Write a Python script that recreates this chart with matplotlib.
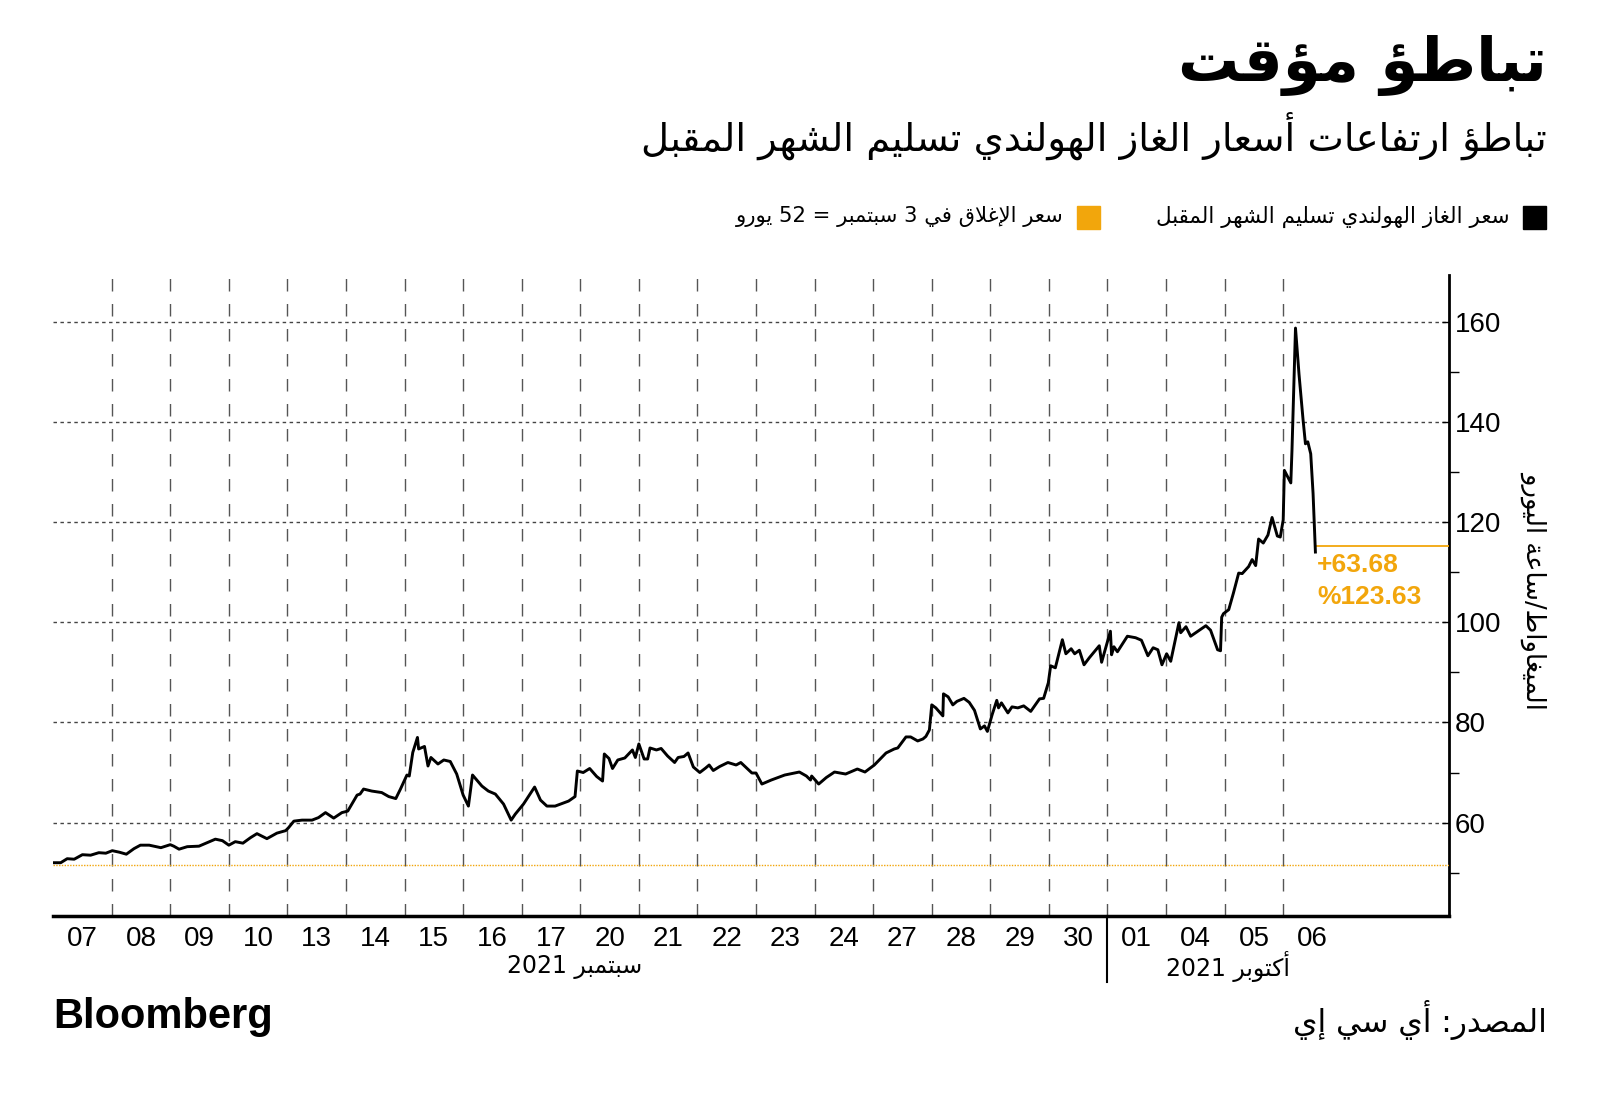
import re
import matplotlib
matplotlib.use('Agg')
import matplotlib.pyplot as plt
import matplotlib.transforms as mtransforms
from matplotlib.patches import Rectangle
import numpy as np

# ---- data ----
# x = position in trading days from the start of 07 Sep, y = EUR/MWh
t = [0.00, 0.13, 0.24, 0.36, 0.50, 0.64, 0.78, 0.90, 1.01, 1.13, 1.25, 1.38, 1.49, 1.64, 1.84,
     2.00, 2.06, 2.15, 2.29, 2.49, 2.63, 2.77, 2.89, 3.00, 3.11, 3.24, 3.37, 3.48, 3.65, 3.82,
     3.97, 4.02, 4.11, 4.25, 4.42, 4.53, 4.65, 4.79, 4.93, 5.03, 5.19, 5.24, 5.30, 5.44, 5.61,
     5.73, 5.85, 5.93, 6.04, 6.08, 6.14, 6.22, 6.24, 6.34, 6.40, 6.45, 6.57, 6.67, 6.78, 6.89,
     7.00, 7.09, 7.16, 7.32, 7.43, 7.55, 7.69, 7.82, 7.89, 8.03, 8.22, 8.32, 8.43, 8.57, 8.80,
     8.91, 8.95, 9.05, 9.16, 9.28, 9.38, 9.41, 9.49, 9.55, 9.64, 9.76, 9.89, 9.94, 10.00, 10.09,
     10.15, 10.19, 10.30, 10.38, 10.49, 10.61, 10.67, 10.77, 10.84, 10.93, 11.04, 11.14, 11.20,
     11.27, 11.38, 11.52, 11.66, 11.74, 11.84, 11.93, 12.00, 12.10, 12.26, 12.49, 12.74, 12.86,
     12.93, 12.95, 13.07, 13.20, 13.34, 13.53, 13.73, 13.86, 14.02, 14.22, 14.36, 14.42, 14.56,
     14.64, 14.76, 14.85, 14.90, 14.96, 15.00, 15.07, 15.19, 15.20, 15.28, 15.36, 15.43, 15.55,
     15.64, 15.73, 15.83, 15.90, 15.95, 16.03, 16.11, 16.14, 16.19, 16.30, 16.37, 16.47, 16.57,
     16.69, 16.84, 16.91, 16.99, 17.03, 17.11, 17.23, 17.29, 17.38, 17.44, 17.52, 17.60, 17.69,
     17.86, 17.90, 18.05, 18.07, 18.11, 18.17, 18.34, 18.48, 18.58, 18.69, 18.78, 18.86, 18.93,
     19.01, 19.08, 19.22, 19.25, 19.34, 19.42, 19.68, 19.76, 19.88, 19.93, 19.95, 19.98, 20.07,
     20.15, 20.24, 20.30, 20.41, 20.47, 20.53, 20.58, 20.66, 20.74, 20.81, 20.90, 20.95, 21.00,
     21.02, 21.13, 21.15, 21.21, 21.27, 21.34, 21.38, 21.42, 21.47, 21.51, 21.55]
price = [52.0, 52.0, 52.8, 52.7, 53.6, 53.5, 54.0, 53.9, 54.4, 54.1, 53.7, 54.8, 55.5, 55.5, 55.0,
         55.6, 55.3, 54.7, 55.2, 55.3, 56.0, 56.7, 56.4, 55.5, 56.2, 55.9, 57.0, 57.8, 56.8, 57.9,
         58.4, 59.0, 60.3, 60.5, 60.5, 61.0, 62.0, 60.9, 62.0, 62.3, 65.5, 65.7, 66.7, 66.3, 66.0,
         65.2, 64.8, 66.7, 69.5, 69.3, 74.0, 77.0, 74.7, 75.2, 71.3, 73.0, 71.7, 72.5, 72.2, 69.7,
         65.5, 63.3, 69.5, 67.3, 66.3, 65.7, 63.7, 60.5, 61.7, 63.7, 67.1, 64.5, 63.3, 63.3, 64.3,
         65.2, 70.3, 70.0, 70.8, 69.2, 68.3, 73.7, 72.8, 70.8, 72.5, 72.9, 74.5, 73.0, 75.7, 72.7,
         72.7, 74.9, 74.5, 74.8, 73.3, 72.0, 73.0, 73.2, 73.9, 71.1, 70.0, 70.9, 71.5,
         70.4, 71.2, 72.0, 71.5, 72.0, 70.9, 69.9, 69.9, 67.7, 68.5, 69.5, 70.1, 69.3,
         68.5, 69.3, 67.7, 69.0, 70.1, 69.7, 70.7, 70.1, 71.5, 73.9, 74.7, 74.9, 77.1,
         77.1, 76.3, 76.7, 77.2, 78.5, 83.5, 82.9, 81.3, 85.7, 85.1, 83.5, 84.2, 84.8,
         84.0, 82.4, 78.7, 79.3, 78.2, 81.5, 84.4, 82.9, 83.9, 81.9, 83.1, 82.9, 83.3,
         82.2, 84.7, 84.8, 87.9, 91.3, 90.9, 96.5, 93.7, 94.7, 93.7, 94.4, 91.5, 92.9,
         95.3, 92.0, 98.2, 93.5, 95.1, 94.1, 97.2, 96.9, 96.4, 93.3, 94.9, 94.5, 91.5,
         93.7, 92.2, 99.9, 97.9, 99.1, 97.2, 99.3, 98.4, 94.5, 94.3, 101.0, 101.7, 102.5,
         105.8, 109.8, 109.7, 111.1, 112.5, 111.3, 116.6, 115.8, 117.4, 120.9, 117.2, 117.0, 120.4,
         130.3, 127.8, 134.3, 158.7, 149.5, 140.3, 135.6, 136.0, 133.6, 125.7, 114.0]

base_close = 51.51   # close on 3 Sep
change = 63.68
change_pct = 123.63
day_labels = ['07', '08', '09', '10', '13', '14', '15', '16', '17', '20', '21', '22', '23', '24',
              '27', '28', '29', '30', '01', '04', '05', '06']

ORANGE = '#F2A60C'

# ---- minimal arabic shaping (presentation forms + visual order) ----
FORMS = {
    'ا': (0xFE8D, 0xFE8E, None, None), 'أ': (0xFE83, 0xFE84, None, None),
    'إ': (0xFE87, 0xFE88, None, None), 'آ': (0xFE81, 0xFE82, None, None),
    'ؤ': (0xFE85, 0xFE86, None, None), 'ب': (0xFE8F, 0xFE90, 0xFE91, 0xFE92),
    'ة': (0xFE93, 0xFE94, None, None), 'ت': (0xFE95, 0xFE96, 0xFE97, 0xFE98),
    'د': (0xFEA9, 0xFEAA, None, None), 'ر': (0xFEAD, 0xFEAE, None, None),
    'ز': (0xFEAF, 0xFEB0, None, None), 'س': (0xFEB1, 0xFEB2, 0xFEB3, 0xFEB4),
    'ش': (0xFEB5, 0xFEB6, 0xFEB7, 0xFEB8), 'ص': (0xFEB9, 0xFEBA, 0xFEBB, 0xFEBC),
    'ط': (0xFEC1, 0xFEC2, 0xFEC3, 0xFEC4), 'ع': (0xFEC9, 0xFECA, 0xFECB, 0xFECC),
    'غ': (0xFECD, 0xFECE, 0xFECF, 0xFED0), 'ف': (0xFED1, 0xFED2, 0xFED3, 0xFED4),
    'ق': (0xFED5, 0xFED6, 0xFED7, 0xFED8), 'ك': (0xFED9, 0xFEDA, 0xFEDB, 0xFEDC),
    'ل': (0xFEDD, 0xFEDE, 0xFEDF, 0xFEE0), 'م': (0xFEE1, 0xFEE2, 0xFEE3, 0xFEE4),
    'ن': (0xFEE5, 0xFEE6, 0xFEE7, 0xFEE8), 'ه': (0xFEE9, 0xFEEA, 0xFEEB, 0xFEEC),
    'و': (0xFEED, 0xFEEE, None, None), 'ي': (0xFEF1, 0xFEF2, 0xFEF3, 0xFEF4),
}
LAM_ALEF = {'ا': (0xFEFB, 0xFEFC), 'أ': (0xFEF7, 0xFEF8), 'إ': (0xFEF9, 0xFEFA), 'آ': (0xFEF5, 0xFEF6)}


def ar(s):
    res = []
    i = 0
    while i < len(s):
        c = s[i]
        if c in FORMS:
            prev = s[i - 1] if i > 0 else ''
            pj = prev in FORMS and FORMS[prev][2] is not None
            if c == 'ل' and i + 1 < len(s) and s[i + 1] in LAM_ALEF:
                iso, fin = LAM_ALEF[s[i + 1]]
                res.append(chr(fin if pj else iso))
                i += 2
                continue
            nxt = s[i + 1] if i + 1 < len(s) else ''
            nj = nxt in FORMS and FORMS[c][2] is not None
            iso, fin, ini, med = FORMS[c]
            res.append(chr(med if (pj and nj) else fin if pj else ini if nj else iso))
        else:
            res.append(c)
        i += 1
    vis = ''.join(reversed(res))
    return re.sub(r'[0-9.]+', lambda m: m.group(0)[::-1], vis)


AR = ['DejaVu Sans']
NUM = ['Liberation Sans', 'DejaVu Sans']

fig = plt.figure(figsize=(16, 10.97), dpi=100)
ax = fig.add_axes([0.0332, 0.1647, 0.8724, 0.5842])

xmax = 23.83
ax.set_xlim(0, xmax)
ax.set_ylim(41.3, 169.2)

ax.plot(t, price, color='black', lw=2.1, solid_joinstyle='round', zorder=5)
ax.axhline(base_close, color=ORANGE, lw=1.0, ls=(0, (1, 1)), zorder=3)
close_now = base_close + change
ax.hlines(close_now, t[-1], xmax, color=ORANGE, lw=1.3, zorder=4)
ax.text(t[-1] + 0.03, close_now - 1.4, '+%.2f' % change, color=ORANGE, fontsize=19,
        fontweight='bold', family=NUM, ha='left', va='top')
ax.text(t[-1] + 0.03, close_now - 7.8, '%%%.2f' % change_pct, color=ORANGE, fontsize=19,
        fontweight='bold', family=NUM, ha='left', va='top')

# spines / ticks
for s in ['left', 'top']:
    ax.spines[s].set_visible(False)
ax.spines['bottom'].set_linewidth(2.5)
ax.spines['right'].set_linewidth(2.0)
ax.yaxis.tick_right()
ax.set_yticks(np.arange(60, 161, 20))
ax.set_yticks(np.arange(50, 151, 20), minor=True)
ax.tick_params(axis='y', which='major', direction='in', length=5, width=1, pad=4, labelsize=20)
ax.tick_params(axis='y', which='minor', direction='out', length=7, width=1)
for lab in ax.get_yticklabels():
    lab.set_family(NUM)
ax.grid(axis='y', which='major', color='#444444', ls=(0, (2.5, 2.5)), lw=1.0)

ax.set_xticks(np.arange(len(day_labels)) + 0.5)
ax.set_xticklabels(day_labels, family=NUM, fontsize=20)
ax.set_xticks(np.arange(1, len(day_labels)), minor=True)
ax.tick_params(axis='x', which='both', length=0, pad=7)
ax.grid(axis='x', which='minor', color='#555555', ls=(0, (9, 9)), lw=1.0)

trans = mtransforms.blended_transform_factory(ax.transData, ax.transAxes)
ax.plot([18, 18], [0, -0.103], color='black', lw=1.5, transform=trans, clip_on=False)
ax.text(8.9, -0.079, ar('سبتمبر 2021'), transform=trans, ha='center', va='center',
        fontsize=17, family=AR)
ax.text(20.05, -0.079, ar('أكتوبر 2021'), transform=trans, ha='center', va='center',
        fontsize=17, family=AR)

fig.text(0.959, 0.462, ar('الميغاواط/ساعة اليورو'), rotation=270, ha='center', va='center',
         fontsize=18.5, family=AR)

# titles
fig.text(0.967, 0.94, ar('تباطؤ مؤقت'), ha='right', va='center', fontsize=44,
         fontweight='bold', family=AR)
fig.text(0.967, 0.876, ar('تباطؤ ارتفاعات أسعار الغاز الهولندي تسليم الشهر المقبل'),
         ha='right', va='center', fontsize=27.7, family=AR)

# legend
fig.patches.append(Rectangle((1523 / 1600, 1 - 229 / 1097), 23 / 1600, 23 / 1097,
                             transform=fig.transFigure, color='black'))
fig.text(1510 / 1600, 1 - 217 / 1097, ar('سعر الغاز الهولندي تسليم الشهر المقبل'),
         ha='right', va='center', fontsize=15.5, family=AR)
fig.patches.append(Rectangle((1077 / 1600, 1 - 229 / 1097), 23 / 1600, 23 / 1097,
                             transform=fig.transFigure, color=ORANGE))
fig.text(1064 / 1600, 1 - 217 / 1097, ar('سعر الإغلاق في 3 سبتمبر = 52 يورو'),
         ha='right', va='center', fontsize=15.2, family=AR)

# footer
fig.text(53 / 1600, 0.073, 'Bloomberg', ha='left', va='center', fontsize=30,
         fontweight='bold', family=NUM)
fig.text(0.967, 0.070, ar('المصدر: أي سي إي'), ha='right', va='center', fontsize=22.5, family=AR)

fig.savefig('out.png', dpi=100, facecolor='white')
